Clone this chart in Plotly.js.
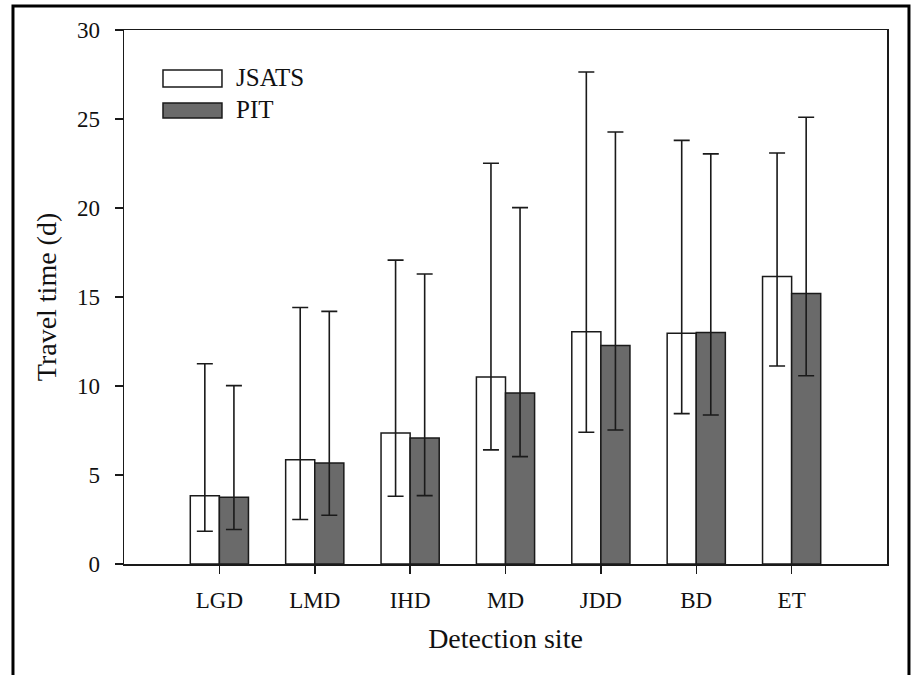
<!DOCTYPE html>
<html>
<head>
<meta charset="utf-8">
<script src="https://cdn.plot.ly/plotly-3.0.1.min.js"></script>
<style>
  html, body { margin: 0; padding: 0; background: #fff; }
  #chart { width: 914px; height: 675px; }
</style>
</head>
<body>
<div id="chart"></div>
<script>
// Data
var sites = ["LGD", "LMD", "IHD", "MD", "JDD", "BD", "ET"];
var jsatsMedian = [3.84, 5.86, 7.36, 10.50, 13.05, 12.97, 16.15];
var jsatsUpper  = [11.25, 14.41, 17.07, 22.51, 27.64, 23.80, 23.09];
var jsatsLower  = [1.84, 2.50, 3.81, 6.41, 7.40, 8.45, 11.12];
var pitMedian   = [3.75, 5.68, 7.08, 9.61, 12.28, 13.01, 15.20];
var pitUpper    = [10.02, 14.19, 16.29, 20.02, 24.27, 23.04, 25.10];
var pitLower    = [1.94, 2.74, 3.84, 6.03, 7.53, 8.37, 10.58];
var seriesNames = ["JSATS", "PIT"];
var yTicks = [0, 5, 10, 15, 20, 25, 30];

function diff(a, b) { return a.map(function (v, i) { return v - b[i]; }); }

var FONT = "Liberation Serif";
var INK = "#1a1a1a";

var traces = [
  {
    type: "bar", name: seriesNames[0], x: sites, y: jsatsMedian,
    marker: { color: "#ffffff", line: { color: INK, width: 1.5 } },
    error_y: { type: "data", symmetric: false,
      array: diff(jsatsUpper, jsatsMedian), arrayminus: diff(jsatsMedian, jsatsLower),
      color: INK, thickness: 1.6, width: 8 },
    showlegend: false
  },
  {
    type: "bar", name: seriesNames[1], x: sites, y: pitMedian,
    marker: { color: "#6a6a6a", line: { color: INK, width: 1.5 } },
    error_y: { type: "data", symmetric: false,
      array: diff(pitUpper, pitMedian), arrayminus: diff(pitMedian, pitLower),
      color: INK, thickness: 1.6, width: 8 },
    showlegend: false
  }
];

var layout = {
  width: 914, height: 675,
  margin: { l: 124, r: 27, t: 30, b: 110.5 },
  paper_bgcolor: "#ffffff", plot_bgcolor: "#ffffff",
  font: { family: FONT, color: "#111", size: 23 },
  barmode: "group", bargap: 0.39, bargroupgap: 0,
  showlegend: false,
  xaxis: {
    type: "category", range: [-1, 7],
    showline: true, mirror: true, linecolor: INK, linewidth: 1.5,
    ticks: "outside", ticklen: 8, tickwidth: 1.5, tickcolor: INK,
    ticklabelstandoff: 7,
    showgrid: false, zeroline: false,
    tickfont: { family: FONT, size: 23, color: "#111" },
    title: { text: "Detection site", font: { family: FONT, size: 28, color: "#111" }, standoff: 16 }
  },
  yaxis: {
    range: [0, 30], tickvals: yTicks, ticktext: yTicks.map(String),
    showline: true, mirror: true, linecolor: INK, linewidth: 1.5,
    ticks: "outside", ticklen: 8, tickwidth: 1.5, tickcolor: INK,
    ticklabelstandoff: 10,
    showgrid: false, zeroline: false,
    tickfont: { family: FONT, size: 23, color: "#111" },
    title: { text: "Travel time (d)", font: { family: FONT, size: 28, color: "#111" }, standoff: 12 }
  },
  shapes: [
    // outer frame (left, top, right)
    { type: "path", xref: "paper", yref: "paper",
      path: "M -0.1455,-0.25 L -0.1455,1.0449 L 1.0288,1.0449 L 1.0288,-0.25",
      line: { color: "#000", width: 3 } },
    // legend swatches
    { type: "rect", xref: "paper", yref: "paper", x0: 0.0511, x1: 0.1284, y0: 0.8933, y1: 0.9252,
      fillcolor: "#ffffff", line: { color: INK, width: 1.5 } },
    { type: "rect", xref: "paper", yref: "paper", x0: 0.0511, x1: 0.1284, y0: 0.8354, y1: 0.8635,
      fillcolor: "#6a6a6a", line: { color: INK, width: 1.5 } }
  ],
  annotations: [
    { xref: "paper", yref: "paper", x: 0.1442, y: 0.9102, xanchor: "left", yanchor: "middle",
      text: seriesNames[0], showarrow: false, font: { family: FONT, size: 25, color: "#111" } },
    { xref: "paper", yref: "paper", x: 0.1442, y: 0.8503, xanchor: "left", yanchor: "middle",
      text: seriesNames[1], showarrow: false, font: { family: FONT, size: 25, color: "#111" } }
  ]
};

Plotly.newPlot("chart", traces, layout, { staticPlot: true, displayModeBar: false });
</script>
</body>
</html>
